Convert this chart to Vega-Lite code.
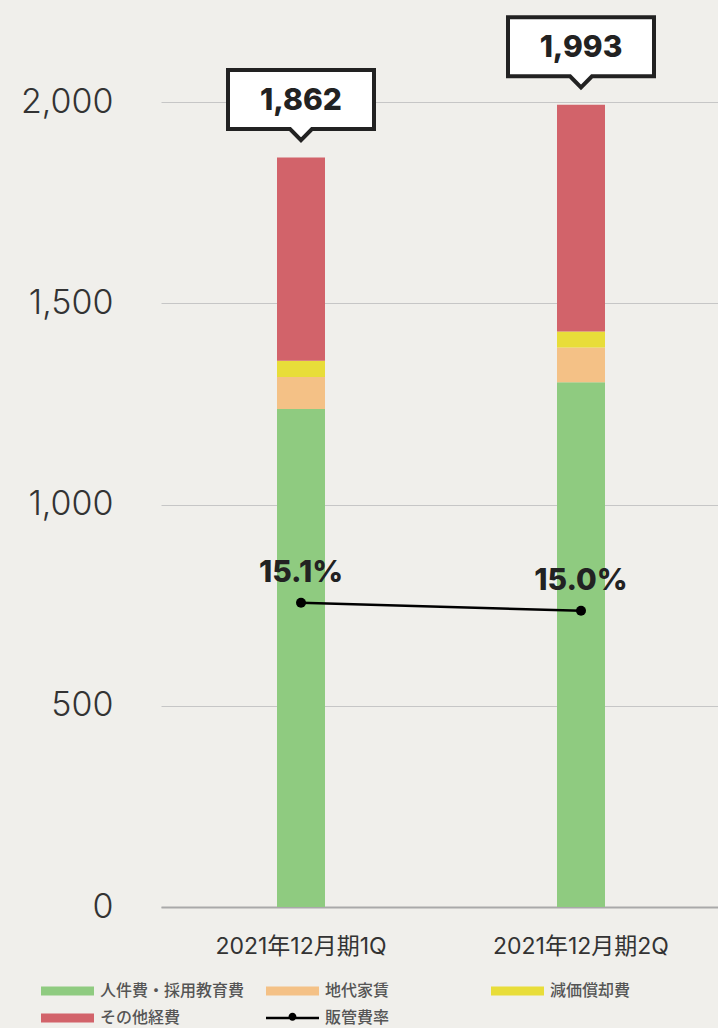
{
  "$schema": "https://vega.github.io/schema/vega-lite/v6.json",
  "width": 556,
  "height": 805,
  "autosize": {"type": "none"},
  "padding": {"left": 162, "top": 102, "right": 0, "bottom": 121},
  "background": "#f0efeb",
  "config": {
    "view": {"stroke": null},
    "font": "Inter",
    "legend": {
      "symbolSize": 2809,
      "symbolOffset": 0,
      "labelOffset": 6,
      "labelFontSize": 16,
      "labelFont": "Noto Sans CJK JP",
      "labelFontWeight": 500,
      "labelColor": "#555555",
      "labelLimit": 300,
      "clipHeight": 22,
      "rowPadding": 5,
      "columnPadding": 21,
      "gridAlign": "all",
      "padding": 0
    }
  },
  "datasets": {
    "costs": [
      {"期": "2021年12月期1Q", "区分": "人件費・採用教育費", "順": 1, "金額": 1237},
      {"期": "2021年12月期1Q", "区分": "地代家賃", "順": 2, "金額": 80},
      {"期": "2021年12月期1Q", "区分": "減価償却費", "順": 3, "金額": 40},
      {"期": "2021年12月期1Q", "区分": "その他経費", "順": 4, "金額": 505},
      {"期": "2021年12月期2Q", "区分": "人件費・採用教育費", "順": 1, "金額": 1304},
      {"期": "2021年12月期2Q", "区分": "地代家賃", "順": 2, "金額": 86},
      {"期": "2021年12月期2Q", "区分": "減価償却費", "順": 3, "金額": 40},
      {"期": "2021年12月期2Q", "区分": "その他経費", "順": 4, "金額": 563}
    ],
    "rate": [
      {"期": "2021年12月期1Q", "販管費率": 0.151},
      {"期": "2021年12月期2Q", "販管費率": 0.150}
    ]
  },
  "encoding": {
    "x": {
      "field": "期",
      "type": "nominal",
      "sort": null,
      "scale": {"paddingInner": 0, "paddingOuter": 0, "range": [-1, 559]},
      "axis": {
        "title": null,
        "labelAngle": 0,
        "labelFont": "Inter, Noto Sans CJK JP",
        "labelFontSize": 23,
        "labelColor": "#333333",
        "labelPadding": 28,
        "ticks": false,
        "tickSize": 0,
        "domain": true,
        "domainColor": "#a9a9a9",
        "domainWidth": 2,
        "grid": false
      }
    }
  },
  "layer": [
    {
      "data": {"name": "costs"},
      "layer": [
        {
          "mark": {"type": "bar", "size": 48},
          "encoding": {
            "y": {
              "field": "金額",
              "type": "quantitative",
              "aggregate": "sum",
              "stack": "zero",
              "scale": {"domain": [0, 2000], "nice": false, "zero": true},
              "axis": {
                "title": null,
                "values": [0, 500, 1000, 1500, 2000],
                "format": ",.0f",
                "labelFont": "Inter",
                "labelFontWeight": 300,
                "labelFontSize": 34,
                "labelColor": "#333333",
                "labelPadding": 49,
                "ticks": false,
                "tickSize": 0,
                "domain": false,
                "grid": true,
                "gridColor": "#c6c6c6",
                "gridWidth": 1
              }
            },
            "order": {"field": "順", "type": "quantitative", "sort": "ascending"},
            "color": {
              "field": "区分",
              "type": "nominal",
              "scale": {
                "domain": ["人件費・採用教育費", "地代家賃", "減価償却費", "その他経費", "販管費率"],
                "range": ["#8fcb80", "#f4c186", "#e8dd39", "#d2636a", "#000000"]
              },
              "legend": {
                "title": null,
                "orient": "none",
                "legendX": -121,
                "legendY": 878,
                "columns": 3,
                "direction": "horizontal",
                "encode": {
                  "symbols": {
                    "update": {
                      "shape": {"signal": "datum.value === '販管費率' ? 'M-1,-0.05L1,-0.05L1,0.05L-1,0.05Z M-0.15,-0.05 A0.15,0.15 0 1,1 0.15,-0.05 A0.15,0.15 0 1,1 -0.15,-0.05 Z' : 'M-1,-0.17L1,-0.17L1,0.17L-1,0.17Z'"},
                      "fill": {"scale": "color", "field": "value"},
                      "stroke": {"value": "transparent"},
                      "strokeWidth": {"value": 0},
                      "opacity": {"value": 1}
                    }
                  }
                }
              }
            }
          }
        },
        {
          "transform": [{"aggregate": [{"op": "sum", "field": "金額", "as": "合計"}], "groupby": ["期"]}],
          "mark": {
            "type": "point",
            "shape": "M-1,-0.404L1,-0.404L1,0.404L0.15,0.404L0,0.555L-0.15,0.404L-1,0.404Z",
            "size": 21316,
            "filled": true,
            "fill": "#ffffff",
            "stroke": "#222222",
            "strokeWidth": 4,
            "strokeJoin": "miter",
            "opacity": 1,
            "yOffset": -58,
            "clip": false
          },
          "encoding": {
            "y": {"field": "合計", "type": "quantitative", "axis": {"title": null, "format": ",.0f"}}
          }
        },
        {
          "transform": [{"aggregate": [{"op": "sum", "field": "金額", "as": "合計"}], "groupby": ["期"]}],
          "mark": {
            "type": "text",
            "font": "Inter",
            "fontWeight": 800,
            "fontSize": 30,
            "color": "#222222",
            "baseline": "middle",
            "align": "center",
            "yOffset": -57
          },
          "encoding": {
            "y": {"field": "合計", "type": "quantitative", "axis": {"title": null, "format": ",.0f"}},
            "text": {"field": "合計", "type": "quantitative", "format": ","}
          }
        }
      ]
    },
    {
      "data": {"name": "rate"},
      "layer": [
        {
          "mark": {"type": "line", "color": "#000000", "strokeWidth": 2.5},
          "encoding": {
            "y": {"field": "販管費率", "type": "quantitative", "scale": {"domain": [0.1132, 0.2132], "nice": false, "zero": false}, "axis": null},
            "color": {"datum": "販管費率", "type": "nominal"}
          }
        },
        {
          "mark": {"type": "point", "filled": true, "size": 100, "opacity": 1, "color": "#000000"},
          "encoding": {
            "y": {"field": "販管費率", "type": "quantitative", "axis": null}
          }
        },
        {
          "mark": {"type": "text", "font": "Inter", "fontWeight": 800, "fontSize": 30, "color": "#222222", "baseline": "alphabetic", "align": "center", "dy": -21},
          "encoding": {
            "y": {"field": "販管費率", "type": "quantitative", "axis": null},
            "text": {"field": "販管費率", "type": "quantitative", "format": ".1%"}
          }
        }
      ]
    }
  ],
  "resolve": {"scale": {"y": "independent"}}
}
